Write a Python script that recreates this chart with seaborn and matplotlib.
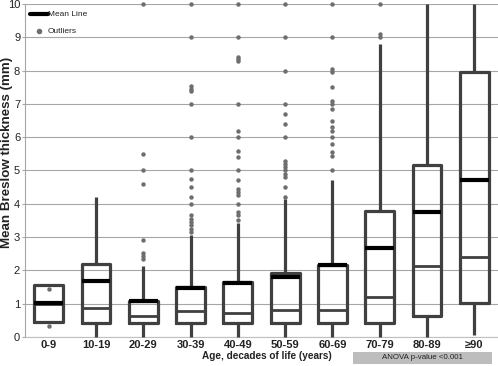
import matplotlib
matplotlib.use("Agg")
import matplotlib.pyplot as plt
import seaborn as sns
import pandas as pd
from matplotlib.lines import Line2D
from matplotlib.patches import Rectangle

categories = ["0-9", "10-19", "20-29", "30-39", "40-49", "50-59", "60-69", "70-79", "80-89", "≥90"]
q1 = [0.44, 0.41, 0.41, 0.41, 0.42, 0.43, 0.43, 0.43, 0.63, 1.01]
median = [1.00, 0.86, 0.63, 0.79, 0.71, 0.81, 0.81, 1.21, 2.13, 2.41]
q3 = [1.56, 2.18, 1.09, 1.49, 1.64, 1.91, 2.16, 3.79, 5.16, 7.97]
mean = [1.03, 1.68, 1.08, 1.47, 1.62, 1.79, 2.15, 2.66, 3.75, 4.71]
whisker_low = [0.44, 0.0, 0.0, 0.0, 0.0, 0.0, 0.0, 0.0, 0.0, 0.05]
whisker_high = [1.56, 4.21, 2.13, 3.06, 3.41, 4.13, 4.71, 8.80, 10.0, 10.0]
outliers = {
    "0-9": [1.45, 0.34],
    "10-19": [],
    "20-29": [10, 5.5, 5.0, 4.6, 2.9, 2.53, 2.43, 2.33],
    "30-39": [10, 9, 7.55, 7.45, 7.4, 7, 6, 5, 4.75, 4.5, 4.2, 4.0, 3.65, 3.55, 3.45, 3.35, 3.25, 3.15],
    "40-49": [10, 9, 8.4, 8.35, 8.3, 7, 6.2, 6.0, 5.6, 5.4, 5.0, 4.7, 4.45, 4.35, 4.25, 4.0, 3.75, 3.65, 3.5],
    "50-59": [10, 9, 8, 7, 6.7, 6.4, 6, 5.3, 5.2, 5.1, 5.0, 4.9, 4.8, 4.5, 4.2],
    "60-69": [10, 9, 8.05, 7.95, 7.5, 7.1, 7.0, 6.85, 6.5, 6.3, 6.2, 6.0, 5.8, 5.55, 5.45, 5.0],
    "70-79": [10, 9.1, 9.0],
    "80-89": [],
    "≥90": [],
}

sns.set_style("white")
plt.rcParams["font.family"] = ["Liberation Sans", "DejaVu Sans"]

W, H = 498, 366
fig = plt.figure(figsize=(W / 100, H / 100), dpi=100)
ax_l, ax_r, ax_t, ax_b = 25, 498, 4, 337
ax = fig.add_axes([ax_l / W, 1 - ax_b / H, (ax_r - ax_l) / W, (ax_b - ax_t) / H])

box_col = "#404040"
grid_col = "#a6a6a6"
out_col = "#6e6e6e"

# outliers through seaborn's categorical axis
rows = [(c, v) for c in categories for v in outliers[c]]
df = pd.DataFrame(rows, columns=["age", "value"])
sns.stripplot(data=df, x="age", y="value", order=categories, jitter=False,
              color=out_col, size=3.2, linewidth=0, ax=ax, zorder=4, clip_on=False)

stats = []
for i, c in enumerate(categories):
    stats.append(dict(label=c, q1=q1[i], med=median[i], q3=q3[i], mean=mean[i],
                      whislo=whisker_low[i], whishi=whisker_high[i], fliers=[]))

ax.bxp(stats, positions=range(len(categories)), widths=0.61, showmeans=True, meanline=True,
       showcaps=False, showfliers=False, manage_ticks=False,
       boxprops=dict(color=box_col, linewidth=2.3),
       whiskerprops=dict(color=box_col, linewidth=2.3, solid_capstyle="butt"),
       medianprops=dict(color=box_col, linewidth=2.0),
       meanprops=dict(color="black", linewidth=3.0, linestyle="-"),
       zorder=3)

ax.set_xlim(-0.5, len(categories) - 0.5)
ax.set_ylim(0, 10)
ax.set_yticks(range(0, 11))
ax.set_yticklabels([str(v) for v in range(0, 11)])
ax.set_xticks(range(len(categories)))
ax.set_xticklabels(categories, fontsize=8, fontweight="bold", color="#222222")
ax.yaxis.grid(True, color=grid_col, linewidth=0.8)
ax.xaxis.grid(False)
ax.set_axisbelow(True)
ax.tick_params(axis="y", labelsize=8, length=2.5, width=0.8, color=grid_col, pad=1,
               labelcolor="#222222", left=True)
ax.tick_params(axis="x", length=0, pad=2)
for s in ["top", "right"]:
    ax.spines[s].set_visible(False)
ax.spines["left"].set_color(grid_col)
ax.spines["left"].set_linewidth(0.8)
ax.spines["bottom"].set_color("#c0c0c0")
ax.spines["bottom"].set_linewidth(0.8)

for art in ax.get_children():
    if isinstance(art, Line2D):
        art.set_clip_on(False)

ax.set_ylabel("")
ax.set_xlabel("Age, decades of life (years)", fontsize=7.2, fontweight="bold", color="#222222")
ax.xaxis.set_label_coords((267 - ax_l) / (ax_r - ax_l), (ax_b - 351) / (ax_b - ax_t))


def fx(px):
    return px / W


def fy(py):
    return 1 - py / H


fig.text(fx(7), fy(152.5), "Mean Breslow thickness (mm)", fontsize=9.6, fontweight="bold",
         rotation=90, ha="center", va="center", color="#222222")

# legend
fig.add_artist(Line2D([fx(30), fx(47.7)], [fy(14.3), fy(14.3)], color="black", linewidth=3))
fig.text(fx(47.7), fy(14.8), "Mean Line", fontsize=6, va="center", ha="left", color="#222222")
fig.add_artist(Line2D([fx(39)], [fy(31)], marker="o", markersize=3, color=out_col, linestyle="none"))
fig.text(fx(47.7), fy(31.3), "Outliers", fontsize=6, va="center", ha="left", color="#222222")

# ANOVA annotation
fig.add_artist(Rectangle((fx(353), fy(363.5)), fx(492) - fx(353), fy(351.5) - fy(363.5),
                         facecolor="#bdbdbd", edgecolor="none", transform=fig.transFigure))
fig.text(fx(422), fy(357.5), "ANOVA p-value <0.001", fontsize=5.7, ha="center", va="center",
         color="#222222")

fig.savefig("out.png", dpi=100)
